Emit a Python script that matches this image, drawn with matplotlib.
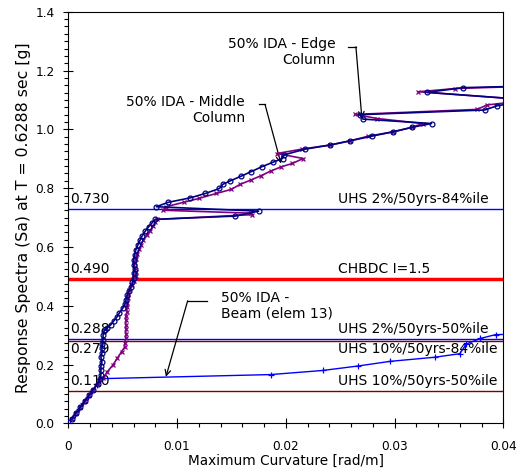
import numpy as np
import matplotlib
matplotlib.use('Agg')
import matplotlib.pyplot as plt
from matplotlib.ticker import MultipleLocator, FormatStrFormatter

plt.rcParams['font.family'] = ['DejaVu Sans']

# 50% IDA - blue circles
mid_x = [0.0003, 0.0007, 0.0011, 0.0015, 0.0019, 0.0023, 0.0027, 0.0029,
         0.0030, 0.0030, 0.0030, 0.0031, 0.0030, 0.0031, 0.0031, 0.0031, 0.0032, 0.0032,
         0.0033, 0.0036, 0.0039, 0.0042, 0.0045, 0.0047, 0.0050, 0.0052, 0.0053, 0.0054,
         0.0056, 0.0058, 0.0059, 0.0060, 0.0060, 0.0061, 0.0060, 0.0060, 0.0061, 0.0062,
         0.0064, 0.0066, 0.0068, 0.0071, 0.0074, 0.0077, 0.0080,
         0.0153, 0.0175, 0.0081,
         0.0092, 0.0112, 0.0126, 0.0139, 0.0142, 0.0149, 0.0159, 0.0168, 0.0178, 0.0188,
         0.0197, 0.0198, 0.0218, 0.0241, 0.0259, 0.0279, 0.0299, 0.0316, 0.0334,
         0.0271, 0.0268, 0.0383, 0.0394, 0.0425, 0.0330, 0.0363, 0.0450]
mid_y = [0.015, 0.035, 0.055, 0.075, 0.095, 0.115, 0.135, 0.150,
         0.165, 0.180, 0.195, 0.210, 0.225, 0.240, 0.255, 0.270, 0.285, 0.300,
         0.315, 0.325, 0.335, 0.349, 0.363, 0.376, 0.391, 0.405, 0.420, 0.436,
         0.450, 0.465, 0.480, 0.495, 0.510, 0.524, 0.538, 0.555, 0.572, 0.589,
         0.607, 0.623, 0.638, 0.655, 0.669, 0.682, 0.694,
         0.705, 0.722, 0.737,
         0.752, 0.767, 0.782, 0.799, 0.813, 0.825, 0.841, 0.856, 0.873, 0.888,
         0.901, 0.913, 0.933, 0.947, 0.961, 0.977, 0.992, 1.007, 1.020,
         1.035, 1.050, 1.066, 1.080, 1.100, 1.126, 1.142, 1.150]

# 50% IDA - purple crosses
edge_x = [0.0003, 0.0007, 0.0011, 0.0015, 0.0019, 0.0023, 0.0027, 0.0032,
          0.0036, 0.0041, 0.0045, 0.0049, 0.0052, 0.0052, 0.0053, 0.0053, 0.0053, 0.0053,
          0.0053, 0.0053, 0.0054, 0.0054, 0.0054, 0.0055, 0.0055, 0.0056, 0.0058, 0.0060,
          0.0062, 0.0062, 0.0061, 0.0061, 0.0062, 0.0063, 0.0065, 0.0067, 0.0069, 0.0072,
          0.0075, 0.0078, 0.0080, 0.0082,
          0.0169, 0.0168, 0.0087,
          0.0090, 0.0106, 0.0120, 0.0136, 0.0150, 0.0158, 0.0168, 0.0177, 0.0186, 0.0196,
          0.0206, 0.0216, 0.0192, 0.0215, 0.0241, 0.0259, 0.0276, 0.0299, 0.0316, 0.0326,
          0.0284, 0.0264, 0.0376, 0.0385, 0.0425, 0.0322, 0.0356, 0.0450]
edge_y = [0.015, 0.035, 0.055, 0.075, 0.095, 0.115, 0.135, 0.153,
          0.176, 0.198, 0.221, 0.244, 0.260, 0.275, 0.290, 0.305, 0.320, 0.335,
          0.350, 0.365, 0.380, 0.395, 0.410, 0.425, 0.440, 0.455, 0.470, 0.485,
          0.500, 0.515, 0.530, 0.545, 0.560, 0.575, 0.592, 0.608, 0.624, 0.640,
          0.655, 0.670, 0.684, 0.694,
          0.710, 0.715, 0.725,
          0.737, 0.752, 0.765, 0.782, 0.796, 0.813, 0.828, 0.842, 0.858, 0.873,
          0.884, 0.901, 0.918, 0.933, 0.947, 0.961, 0.977, 0.992, 1.007, 1.020,
          1.037, 1.051, 1.068, 1.083, 1.100, 1.128, 1.139, 1.150]

# 50% IDA - Beam (elem 13)
beam_x = [0.0002, 0.0006, 0.0010, 0.0014, 0.0018, 0.0022, 0.0026, 0.0029,
          0.0186, 0.0234, 0.0266, 0.0296, 0.0337, 0.0360, 0.0366, 0.0379, 0.0393, 0.0410]
beam_y = [0.010, 0.030, 0.050, 0.070, 0.090, 0.110, 0.130, 0.152,
          0.166, 0.180, 0.195, 0.211, 0.225, 0.237, 0.270, 0.289, 0.302, 0.303]

# hazard levels
lvl_vals = [0.730, 0.490, 0.288, 0.279, 0.110]
lvl_names = ['UHS 2%/50yrs-84%ile', 'CHBDC I=1.5', 'UHS 2%/50yrs-50%ile',
             'UHS 10%/50yrs-84%ile', 'UHS 10%/50yrs-50%ile']
lvl_colors = ['#0000ff', '#ff0000', '#0000ff', '#800000', '#800000']
lvl_widths = [1.0, 2.5, 1.0, 1.0, 1.0]
lvl_below = [False, False, False, True, False]

fig = plt.figure(figsize=(5.21, 4.72), dpi=100)
ax = fig.add_axes([0.131, 0.103, 0.835, 0.872])

for v, name, c, w, below in zip(lvl_vals, lvl_names, lvl_colors, lvl_widths, lvl_below):
    ax.axhline(v, color=c, lw=w, zorder=2)
    if below:
        ax.text(0.0002, v - 0.002, '%.3f' % v, fontsize=10, va='top', ha='left')
        ax.text(0.0248, v - 0.002, name, fontsize=10, va='top', ha='left')
    else:
        ax.text(0.0002, v + 0.010, '%.3f' % v, fontsize=10, va='bottom', ha='left')
        ax.text(0.0248, v + 0.010, name, fontsize=10, va='bottom', ha='left')

ax.plot(beam_x, beam_y, color='#0000ff', lw=1.0, marker='+', ms=5, mew=0.9, zorder=3)
ax.plot(edge_x, edge_y, color='#800080', lw=1.2, marker='x', ms=3.5, mew=0.9, zorder=4)
ax.plot(mid_x, mid_y, color='#000080', lw=1.2, marker='o', ms=3.5, mfc='none', mew=0.9, zorder=5)

# callouts
arrow = dict(arrowstyle='->', color='black', lw=0.9, shrinkA=0, shrinkB=0)
ax.text(0.02455, 1.264, '50% IDA - Edge\nColumn', fontsize=10, ha='right', va='center',
        multialignment='right', linespacing=1.15)
ax.plot([0.0257, 0.02645], [1.281, 1.281], color='black', lw=0.9)
ax.annotate('', xy=(0.0270, 1.037), xytext=(0.02645, 1.281), arrowprops=arrow)

ax.text(0.01625, 1.067, '50% IDA - Middle\nColumn', fontsize=10, ha='right', va='center',
        multialignment='right', linespacing=1.15)
ax.plot([0.01753, 0.01809], [1.085, 1.085], color='black', lw=0.9)
ax.annotate('', xy=(0.01956, 0.884), xytext=(0.01809, 1.085), arrowprops=arrow)

ax.text(0.01404, 0.399, '50% IDA -\nBeam (elem 13)', fontsize=10, ha='left', va='center',
        linespacing=1.15)
ax.plot([0.01273, 0.01098], [0.417, 0.417], color='black', lw=0.9)
ax.annotate('', xy=(0.00898, 0.1585), xytext=(0.01098, 0.417), arrowprops=arrow)

ax.set_xlim(0, 0.04)
ax.set_ylim(0, 1.4)
ax.xaxis.set_major_locator(MultipleLocator(0.01))
ax.xaxis.set_minor_locator(MultipleLocator(0.002))
ax.yaxis.set_major_locator(MultipleLocator(0.2))
ax.yaxis.set_minor_locator(MultipleLocator(0.025))
ax.xaxis.set_major_formatter(plt.FuncFormatter(lambda v, p: '0' if v == 0 else '%g' % round(v, 3)))
ax.yaxis.set_major_formatter(FormatStrFormatter('%.1f'))
ax.tick_params(which='major', direction='inout', length=6.5, width=0.8, labelsize=8.7)
ax.tick_params(which='minor', direction='out', length=3.0, width=0.8)
ax.tick_params(axis='x', which='major', pad=9)
ax.tick_params(axis='y', which='major', pad=6.5)
ax.set_xlabel('Maximum Curvature [rad/m]', fontsize=9.8, labelpad=0)
ax.set_ylabel('Response Spectra (Sa) at T = 0.6288 sec [g]', fontsize=11.3, labelpad=3)

fig.savefig('out.png', dpi=100)
